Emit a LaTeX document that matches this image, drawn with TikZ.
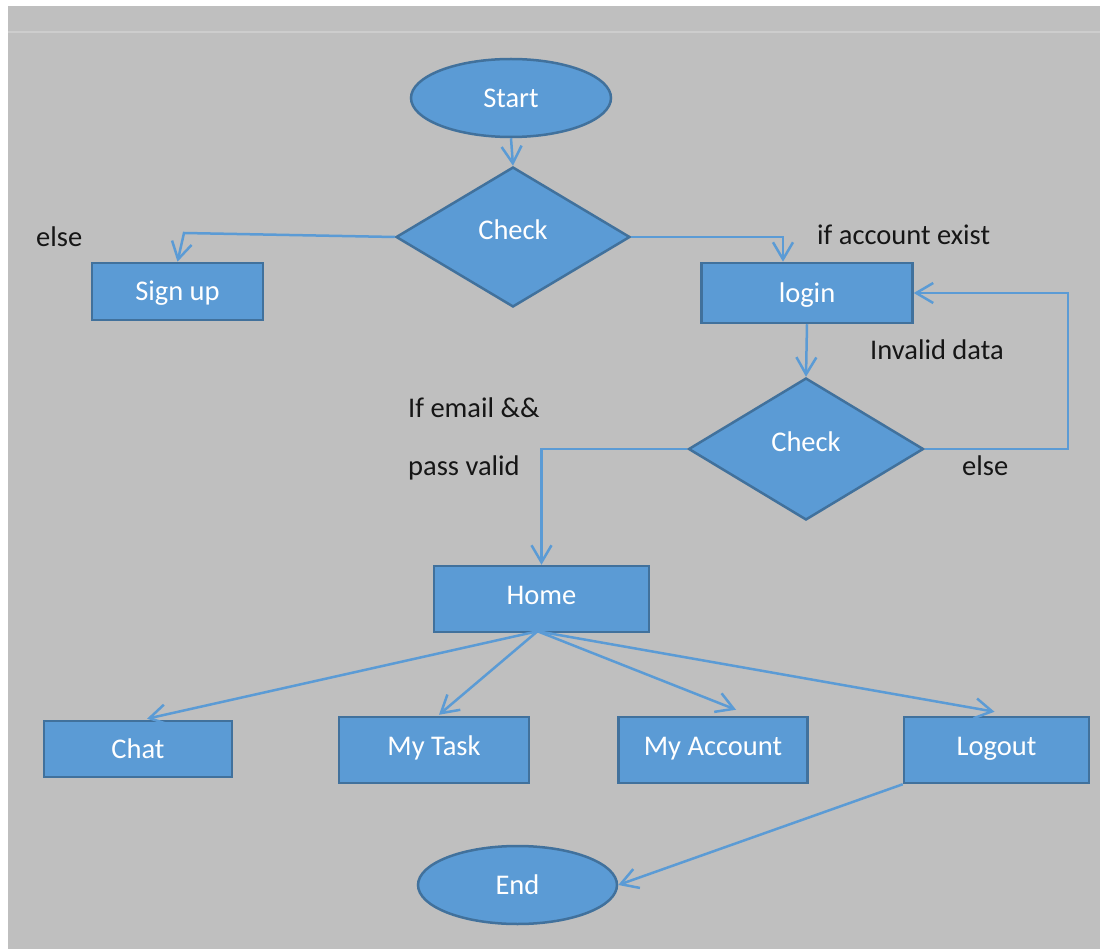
\documentclass[tikz,border=0pt]{standalone}
\usepackage{fontspec}
\setmainfont{Carlito}
\usetikzlibrary{shapes.geometric,arrows.meta,calc}

\definecolor{canvas}{HTML}{BFBFBF}
\definecolor{boxfill}{HTML}{5B9BD5}
\definecolor{boxline}{HTML}{41719C}
\definecolor{wire}{HTML}{5B9BD5}
\definecolor{rulecol}{HTML}{CDCDCD}
\definecolor{ink}{HTML}{161616}

\tikzset{
  every node/.style={font=\fontsize{28.5}{34}\selectfont, inner sep=0pt},
  shapebase/.style={draw=boxline, line width=2.5pt, fill=boxfill, text=white,
                    text height=18.4pt, text depth=0pt},
  procbox/.style={shapebase, rectangle},
  termbox/.style={shapebase, ellipse},
  testbox/.style={shapebase, diamond, text depth=14pt},
  note/.style={text=ink, anchor=west, text height=18.4pt, text depth=0pt},
  wireline/.style={draw=wire, line width=2.5pt},
  flow/.style={wireline, -{Straight Barb[length=17pt,width=20pt]}},
}

\begin{document}
\begin{tikzpicture}[x=1pt,y=-1pt]
\useasboundingbox (0,0) rectangle (1100,949);

% page and slide area
\fill[white] (0,0) rectangle (1100,949);
\fill[canvas] (8,6) rectangle (1101,950);
\draw[rulecol, line width=1.5pt] (8,32) -- (1100,32);

% shapes
\node[termbox, minimum width=200pt, minimum height=78pt] (start) at (511,98) {Start};
\node[testbox, minimum width=234pt, minimum height=140pt] (check1) at (513,237) {Check};
\node[procbox, minimum width=171pt, minimum height=57pt] (signup) at (177.5,291.5) {Sign up};
\node[procbox, minimum width=211pt, minimum height=60pt] (login) at (807,293) {login};
\node[testbox, minimum width=235pt, minimum height=142pt] (check2) at (806,449) {Check};
\node[procbox, minimum width=215pt, minimum height=66pt, text depth=7pt] (home) at (541.5,599) {Home};
\node[procbox, minimum width=188pt, minimum height=56pt] (chat) at (138,749) {Chat};
\node[procbox, minimum width=190pt, minimum height=66pt, text depth=7pt] (mytask) at (434,750) {My Task};
\node[procbox, minimum width=189pt, minimum height=66pt, text depth=7pt] (myaccount) at (713,750) {My Account};
\node[procbox, minimum width=185pt, minimum height=66pt, text depth=7pt] (logout) at (996.5,750) {Logout};
\node[termbox, minimum width=199pt, minimum height=78pt] (end) at (517.5,885) {End};

% labels
\node[note] (lelse1) at (36,237) {else};
\node[note] (lexist) at (817,235) {if account exist};
\node[note] (linvalid) at (870,350) {Invalid data};
\node[note] (lemail) at (408,408) {If email \&\&};
\node[note] (lpass) at (408,466) {pass valid};
\node[note] (lelse2) at (962,466) {else};

% bends
\coordinate (elbowL) at (184,233);
\coordinate (loopB) at (1068,449);
\coordinate (fan) at ($(home.south)+(-4,-2)$);

% connectors
\draw[flow] (start.south) -- (check1.north);
\draw[flow] (check1.west) -- (elbowL) -- (signup.north);
\draw[flow] (check1.east) -| ([xshift=-24pt]login.north);
\draw[flow] (login.south) -- (check2.north);
\draw[flow] (check2.east) -- (loopB) |- (login.east);
\draw[flow] (check2.west) -| (home.north);
\draw[flow] (fan) -- ([xshift=9pt,yshift=1pt]chat.north);
\draw[flow] (fan) -- ([xshift=5pt,yshift=1pt]mytask.north);
\draw[flow] (fan) -- ([xshift=23pt,yshift=6pt]myaccount.north);
\draw[flow] (fan) -- ([xshift=-2pt,yshift=4pt]logout.north);
\draw[flow] (logout.south west) -- (end.east);
\end{tikzpicture}
\end{document}
